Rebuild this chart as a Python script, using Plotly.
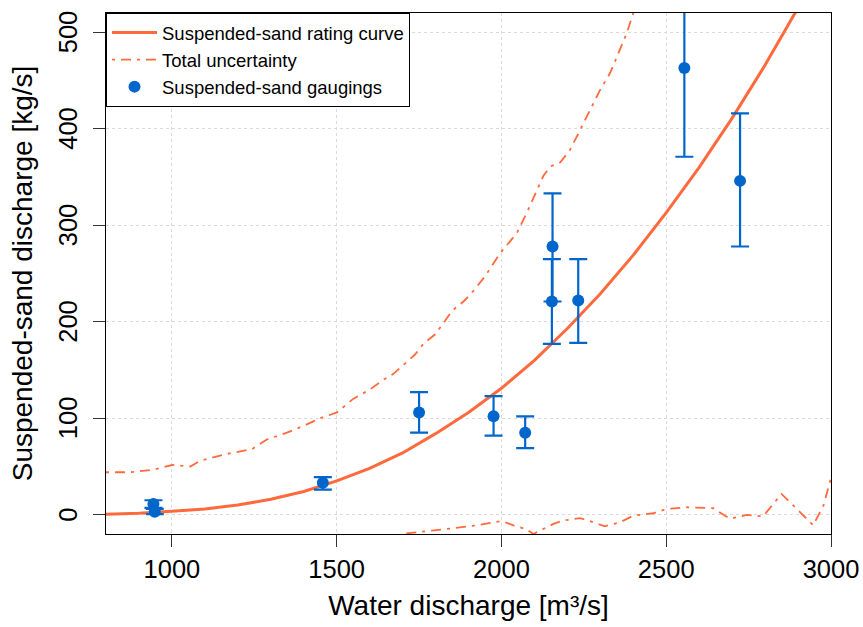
import plotly.graph_objects as go

# rating curve
curve_q = [800, 900, 1000, 1100, 1200, 1300, 1400, 1500, 1600, 1700, 1800,
           1900, 2000, 2100, 2200, 2300, 2400, 2500, 2600, 2700, 2800, 2900, 2950]
curve_qs = [0.5, 1.5, 3.5, 6, 10, 16, 24, 35, 48, 64, 84,
            106, 131, 160, 193, 229, 269, 313, 360, 411, 466, 525, 555]

# total uncertainty envelope
upper_q = [800, 874, 943, 1001, 1056, 1086, 1167, 1243, 1288, 1349, 1399, 1450,
           1501, 1550, 1602, 1642, 1672, 1713, 1738, 1763, 1799, 1829, 1849, 1885,
           1915, 1950, 1996, 2047, 2077, 2127, 2148, 2178, 2208, 2239, 2269, 2299,
           2330, 2360, 2380, 2400, 2420]
upper_qs = [44, 44, 46.6, 51.5, 50, 56, 63, 68, 78, 85, 92, 100,
            106, 120, 130, 140, 146, 158, 166, 177, 187, 201, 211, 221,
            232, 247, 271, 292, 313, 351, 361, 365, 378, 399, 420, 440,
            458, 482, 499, 520, 545]
lower_q = [1690, 1708, 1750, 1794, 1854, 1925, 1986, 2001, 2036, 2075, 2097,
           2158, 2188, 2239, 2279, 2314, 2360, 2400, 2461, 2502, 2562, 2643,
           2693, 2744, 2794, 2850, 2896, 2946, 2977, 3000]
lower_qs = [-25, -19.5, -18, -16, -14, -11, -7, -6.5, -11, -15, -20,
            -9.5, -6, -3.6, -7.8, -12, -7.8, -1, 1.5, 6, 7.7, 6.7,
            -4.3, -0.2, -1.6, 21.5, 6, -11, 9.4, 38]

# suspended-sand gaugings with uncertainty bounds
gauge_q = [944, 948, 1458, 1750, 1976, 2072, 2155, 2153, 2233, 2555, 2724]
gauge_qs = [11, 3, 33, 106, 102, 85, 278, 221, 222, 463, 346]
gauge_low = [7, 0.5, 26, 85, 82, 69, 221, 177, 178, 371, 278]
gauge_high = [15, 6, 39, 127, 123, 102, 333, 265, 265, 556, 416]

x_ticks = [1000, 1500, 2000, 2500, 3000]
y_ticks = [0, 100, 200, 300, 400, 500]

ORANGE = "#FF6A3D"
BLUE = "#0066CC"
FONT = "Liberation Sans, Arial, sans-serif"
DASHDOT = "3px,6px,10px,6px"
TICK_SIZE = 25.5
TITLE_SIZE = 28

fig = go.Figure()

fig.add_trace(go.Scatter(
    x=curve_q, y=curve_qs, mode="lines",
    line=dict(color=ORANGE, width=3),
    name="Suspended-sand rating curve"
))
fig.add_trace(go.Scatter(
    x=upper_q, y=upper_qs, mode="lines",
    line=dict(color=ORANGE, width=1.8, dash=DASHDOT),
    name="Total uncertainty", legendgroup="unc"
))
fig.add_trace(go.Scatter(
    x=lower_q, y=lower_qs, mode="lines",
    line=dict(color=ORANGE, width=1.8, dash=DASHDOT),
    name="Total uncertainty", legendgroup="unc", showlegend=False
))
fig.add_trace(go.Scatter(
    x=gauge_q, y=gauge_qs, mode="markers",
    marker=dict(color=BLUE, size=12),
    error_y=dict(
        type="data", symmetric=False,
        array=[h - v for h, v in zip(gauge_high, gauge_qs)],
        arrayminus=[v - l for l, v in zip(gauge_low, gauge_qs)],
        color=BLUE, thickness=2.2, width=9
    ),
    name="Suspended-sand gaugings"
))

axis_common = dict(
    showline=True, mirror=True, linecolor="black", linewidth=1,
    ticks="outside", ticklen=12, tickcolor="#333", tickwidth=1,
    showgrid=True, gridcolor="#DADADA", griddash="dot", gridwidth=1,
    zeroline=False, tickfont=dict(size=TICK_SIZE, color="black"),
    automargin=False,
)

# y tick labels are drawn rotated, as in the original
for v in y_ticks:
    fig.add_annotation(
        x=0, xref="paper", y=v, yref="y", text=str(v),
        textangle=-90, showarrow=False, xanchor="center", yanchor="middle",
        xshift=-38, font=dict(size=TICK_SIZE, color="black")
    )

fig.update_layout(
    width=863, height=627,
    margin=dict(l=106, r=32, t=13, b=93),
    plot_bgcolor="white", paper_bgcolor="white",
    font=dict(family=FONT, color="black"),
    xaxis=dict(
        range=[800, 3000], tickvals=x_ticks,
        title=dict(text="Water discharge [m³/s]", font=dict(size=TITLE_SIZE), standoff=13),
        ticklabelstandoff=0,
        **axis_common
    ),
    yaxis=dict(
        range=[-20, 520], tickvals=y_ticks, showticklabels=False,
        title=dict(text="Suspended-sand discharge [kg/s]", font=dict(size=TITLE_SIZE), standoff=52),
        **axis_common
    ),
    legend=dict(
        x=0, y=1, xanchor="left", yanchor="top",
        bordercolor="black", borderwidth=1, bgcolor="white",
        font=dict(size=18.5), tracegroupgap=0, itemwidth=45,
    ),
)

# the page is photographed at exactly the figure size, so drop the body margin
fig.write_html("out.html", config={"displayModeBar": False},
               post_script="document.body.style.margin='0px';")
